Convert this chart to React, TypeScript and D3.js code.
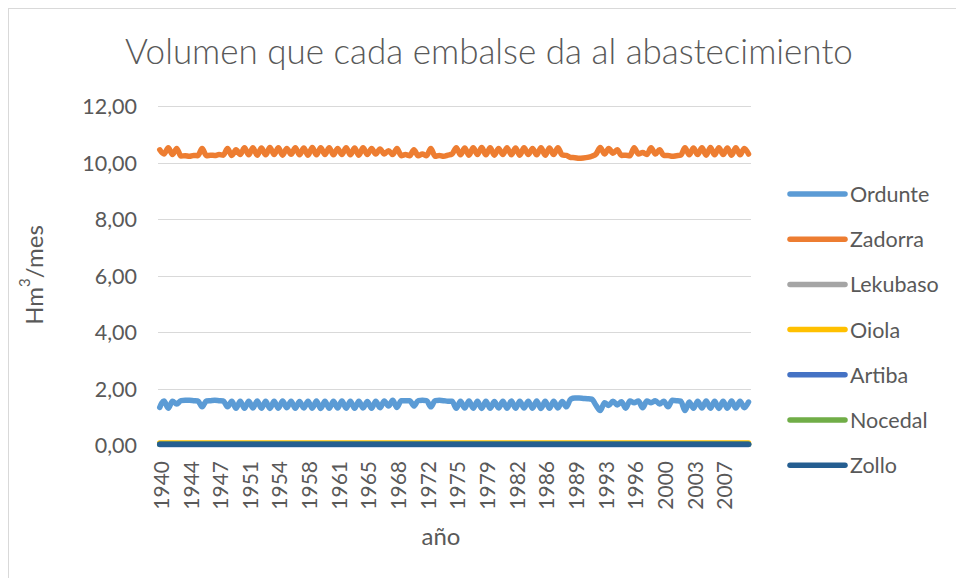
import React from "react";
import * as d3 from "d3";

// ---- data ----
const seriesNames = ["Ordunte", "Zadorra", "Lekubaso", "Oiola", "Artiba", "Nocedal", "Zollo"];
const seriesColors = ["#5B9BD5", "#ED7D31", "#A5A5A5", "#FFC000", "#4472C4", "#70AD47", "#255E91"];
const yTicks = [0, 2, 4, 6, 8, 10, 12];
const xTickLabels = ["1940", "1944", "1947", "1951", "1954", "1958", "1961", "1965", "1968", "1972",
  "1975", "1979", "1982", "1986", "1989", "1993", "1996", "2000", "2003", "2007"];
const monthsTotal = 840; // Oct 1940 .. Sep 2010, monthly categories
const labelEvery = 42;

// winter (Dec) and summer (Jun) values per hydrological year
const zadorraDec = [
  10.45, 10.52, 10.50, 10.24, 10.25, 10.50, 10.26, 10.28, 10.50, 10.45,
  10.52, 10.52, 10.51, 10.53, 10.52, 10.50, 10.52, 10.51, 10.53, 10.52,
  10.52, 10.50, 10.52, 10.51, 10.52, 10.50, 10.48, 10.42, 10.50, 10.28,
  10.45, 10.30, 10.50, 10.25, 10.26, 10.52, 10.51, 10.52, 10.53, 10.52,
  10.50, 10.52, 10.51, 10.52, 10.50, 10.52, 10.51, 10.52, 10.25, 10.17,
  10.16, 10.22, 10.53, 10.50, 10.45, 10.26, 10.52, 10.35, 10.52, 10.45,
  10.25, 10.24, 10.52, 10.51, 10.52, 10.53, 10.52, 10.51, 10.52, 10.50,
];
const zadorraJun = [
  10.30, 10.28, 10.23, 10.22, 10.24, 10.24, 10.25, 10.26, 10.25, 10.28,
  10.27, 10.26, 10.27, 10.28, 10.26, 10.29, 10.27, 10.26, 10.27, 10.28,
  10.27, 10.28, 10.27, 10.26, 10.28, 10.30, 10.30, 10.28, 10.24, 10.24,
  10.24, 10.24, 10.22, 10.22, 10.30, 10.27, 10.26, 10.28, 10.27, 10.26,
  10.28, 10.27, 10.26, 10.28, 10.27, 10.26, 10.28, 10.27, 10.18, 10.15,
  10.18, 10.30, 10.30, 10.33, 10.25, 10.24, 10.30, 10.28, 10.30, 10.25,
  10.22, 10.26, 10.27, 10.28, 10.26, 10.27, 10.28, 10.26, 10.27, 10.30,
];
const ordunteDec = [
  1.33, 1.30, 1.45, 1.58, 1.57, 1.35, 1.57, 1.57, 1.35, 1.30,
  1.30, 1.31, 1.30, 1.29, 1.30, 1.32, 1.30, 1.31, 1.30, 1.29,
  1.30, 1.31, 1.30, 1.30, 1.31, 1.30, 1.32, 1.38, 1.33, 1.57,
  1.38, 1.58, 1.35, 1.58, 1.55, 1.30, 1.31, 1.30, 1.29, 1.30,
  1.31, 1.30, 1.30, 1.31, 1.30, 1.29, 1.30, 1.31, 1.35, 1.66,
  1.65, 1.62, 1.22, 1.40, 1.42, 1.30, 1.50, 1.32, 1.50, 1.45,
  1.35, 1.57, 1.22, 1.30, 1.31, 1.30, 1.29, 1.30, 1.31, 1.32,
];
const ordunteJun = [
  1.56, 1.55, 1.57, 1.58, 1.56, 1.56, 1.58, 1.56, 1.55, 1.55,
  1.55, 1.56, 1.55, 1.55, 1.56, 1.55, 1.54, 1.55, 1.56, 1.55,
  1.55, 1.56, 1.55, 1.55, 1.54, 1.55, 1.56, 1.58, 1.57, 1.57,
  1.57, 1.57, 1.57, 1.57, 1.55, 1.55, 1.56, 1.55, 1.55, 1.54,
  1.55, 1.56, 1.55, 1.55, 1.56, 1.55, 1.55, 1.54, 1.62, 1.66,
  1.64, 1.40, 1.50, 1.55, 1.53, 1.56, 1.56, 1.56, 1.57, 1.55,
  1.58, 1.55, 1.52, 1.55, 1.56, 1.55, 1.55, 1.56, 1.55, 1.52,
];
// near-zero reservoirs: flat levels
const lekubasoLevel = [0.03];
const oiolaLevel = [0.07];
const artibaLevel = [0.02];
const nocedalLevel = [0.03];
const zolloLevel = [0.03];

const FONT = "Lato, 'Liberation Sans', sans-serif";
const TXT = "#595959";

type Pt = { m: number; v: number };

function seasonal(dec: number[], jun: number[]): Pt[] {
  const out: Pt[] = [];
  dec.forEach((d, i) => {
    out.push({ m: i * 12 + 2, v: d });
    out.push({ m: i * 12 + 8, v: jun[i] });
  });
  return out;
}
function flat(level: number[]): Pt[] {
  return seasonal(zadorraDec.map(() => level[0]), zadorraJun.map(() => level[0]));
}

export default function App() {
  const W = 956, H = 578;
  const left = 158, right = 751, top = 106, bottom = 445;
  const x = d3.scaleLinear().domain([0, monthsTotal]).range([left, right]);
  const y = d3.scaleLinear().domain([0, 12]).range([bottom, top]);
  const line = d3.line<Pt>().x((d) => x(d.m + 0.5)).y((d) => y(d.v)).curve(d3.curveMonotoneX);

  const data: Pt[][] = [
    seasonal(ordunteDec, ordunteJun),
    seasonal(zadorraDec, zadorraJun),
    flat(lekubasoLevel),
    flat(oiolaLevel),
    flat(artibaLevel),
    flat(nocedalLevel),
    flat(zolloLevel),
  ];

  return (
    <svg width={W} height={H} style={{ position: "absolute", left: 0, top: 0, background: "#fff" }}
      fontFamily={FONT}>
      <rect x={8.5} y={8.5} width={W} height={H} fill="#fff" stroke="#d9d9d9" />
      <text x={489} y={64} textAnchor="middle" fontSize={35} fontWeight={300} fill={TXT}>
        Volumen que cada embalse da al abastecimiento
      </text>
      {yTicks.map((t) => (
        <g key={t}>
          <line x1={left} x2={right} y1={Math.round(y(t)) + 0.5} y2={Math.round(y(t)) + 0.5}
            stroke="#d9d9d9" strokeWidth={1} />
          <text x={137} y={y(t)} textAnchor="end" dominantBaseline="central" fontSize={21.5} fill={TXT}>
            {d3.format(".2f")(t).replace(".", ",")}
          </text>
        </g>
      ))}
      {xTickLabels.map((lab, i) => (
        <text key={lab} transform={`translate(${x(i * labelEvery + 0.5) + 2},461) rotate(-90)`}
          textAnchor="end" dominantBaseline="central" fontSize={21} fill={TXT}>
          {lab}
        </text>
      ))}
      {data.map((pts, i) => (
        <path key={seriesNames[i]} d={line(pts) || ""} fill="none" stroke={seriesColors[i]}
          strokeWidth={5.5} strokeLinejoin="round" strokeLinecap="round" />
      ))}
      <text transform="translate(33,275) rotate(-90)" textAnchor="middle" dominantBaseline="central"
        fontSize={24} fill={TXT}>
        Hm<tspan baselineShift="super" fontSize={15}>3</tspan>/mes
      </text>
      <text x={441} y={535} textAnchor="middle" dominantBaseline="central" fontSize={24} fill={TXT}>
        año
      </text>
      {seriesNames.map((n, i) => {
        const ly = 194 + i * 45.2;
        return (
          <g key={n}>
            <line x1={790} x2={845} y1={ly} y2={ly} stroke={seriesColors[i]} strokeWidth={5.5}
              strokeLinecap="round" />
            <text x={850} y={ly} dominantBaseline="central" fontSize={21.5} fill={TXT}>{n}</text>
          </g>
        );
      })}
    </svg>
  );
}
